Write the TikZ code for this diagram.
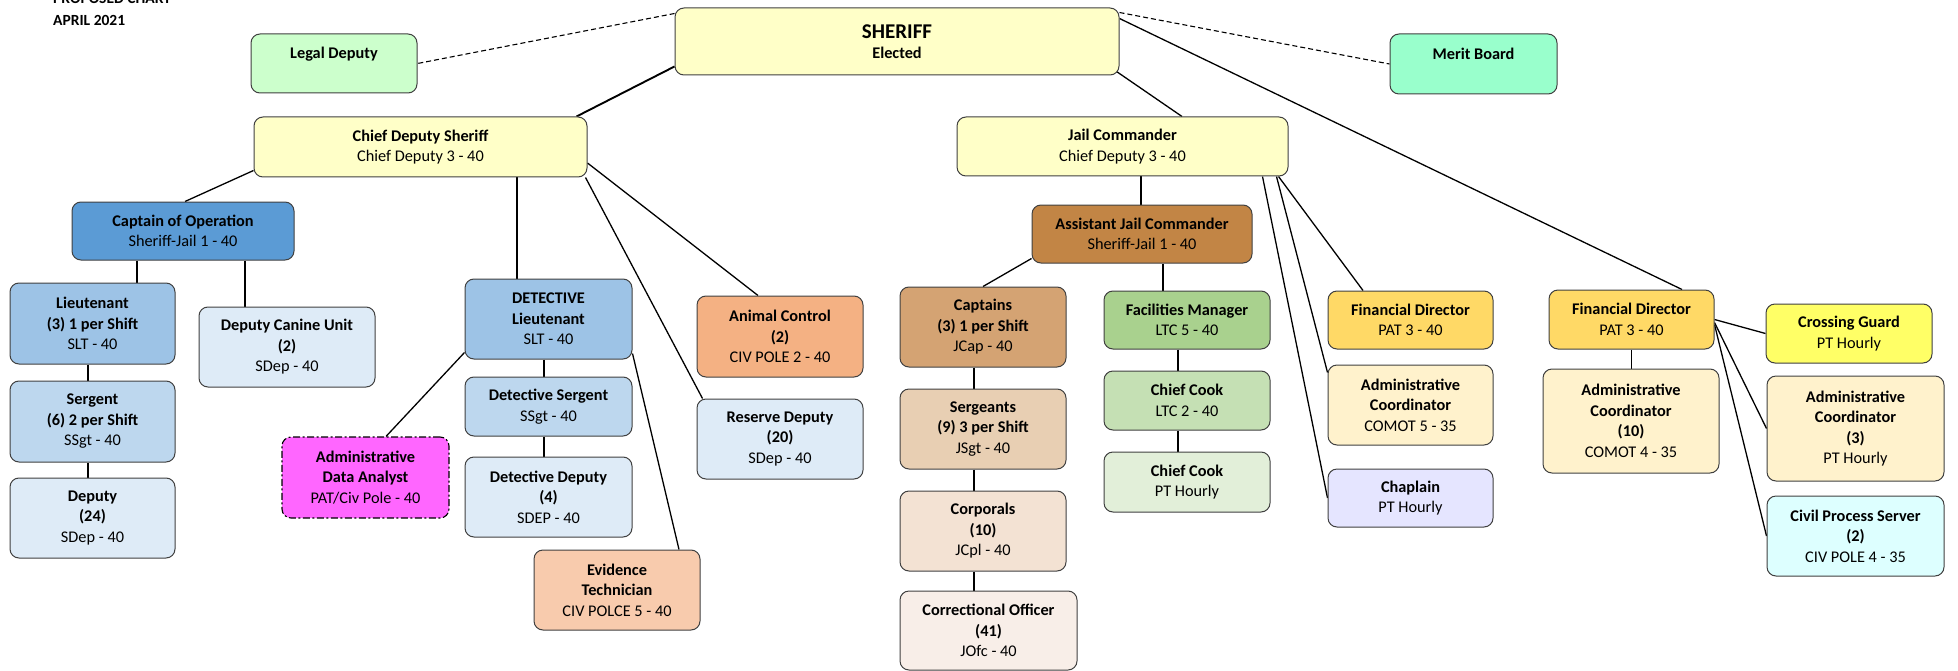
\documentclass[tikz,border=0pt]{standalone}
\usepackage{fontspec}
\setmainfont{Carlito}
\usetikzlibrary{backgrounds}
\definecolor{edge}{HTML}{404040}
\definecolor{cYel}{HTML}{FFFFC8}
\definecolor{cLegal}{HTML}{CCFFCC}
\definecolor{cMerit}{HTML}{99FFCC}
\definecolor{cBlueA}{HTML}{5B9BD5}
\definecolor{cBlueB}{HTML}{9DC3E6}
\definecolor{cBlueC}{HTML}{BDD7EE}
\definecolor{cBlueD}{HTML}{DEEBF7}
\definecolor{cMag}{HTML}{FF66FF}
\definecolor{cAnimal}{HTML}{F4B183}
\definecolor{cEvid}{HTML}{F8CBAD}
\definecolor{cBrA}{HTML}{C28545}
\definecolor{cBrB}{HTML}{D4A373}
\definecolor{cBrC}{HTML}{E8CFB3}
\definecolor{cBrD}{HTML}{F3E2D3}
\definecolor{cBrE}{HTML}{F8EEE8}
\definecolor{cGrA}{HTML}{A9D18E}
\definecolor{cGrB}{HTML}{C5E0B4}
\definecolor{cGrC}{HTML}{E2EFD9}
\definecolor{cGold}{HTML}{FFD966}
\definecolor{cCream}{HTML}{FFF2CC}
\definecolor{cLav}{HTML}{E5E5FF}
\definecolor{cCross}{HTML}{FFFF66}
\definecolor{cCyan}{HTML}{DDFFFF}
\tikzset{
  box/.style={draw=edge, line width=1pt, rounded corners=9pt, align=center,
    inner sep=0pt, text=black, font=\fontsize{16.3}{20.5}\selectfont},
  dashdotbox/.style={dash pattern=on 7pt off 2.5pt on 2pt off 2.5pt, draw=black, line width=1.1pt},
  link/.style={line width=1.3pt, draw=black},
  stem/.style={line width=1.9pt, draw=black},
  dashlink/.style={line width=1.1pt, draw=black, dash pattern=on 5pt off 3pt},
  titletext/.style={anchor=base west, inner sep=0pt, font=\bfseries\fontsize{15.5}{19}\selectfont}
}
% name, x1, y1, x2, y2, fill, extra style, text
\newcommand{\bx}[8]{\node[box, fill=#6, #7, minimum width={(#4-#2)*1pt}, minimum height={(#5-#3)*1pt}] (#1) at ({(#2+#4)/2},{(#3+#5)/2}) {#8};}
\begin{document}
\begin{tikzpicture}[x=1pt,y=-1pt]
\useasboundingbox (0,0) rectangle (1958,671);
\node[titletext] (t1) at (53,4) {PROPOSED CHART};
\node[titletext] (t2) at (53,26) {APRIL 2021};

\bx{legal}{251}{34}{417}{93}{cLegal}{}{\textbf{Legal Deputy}\\\mbox{}}
\bx{sheriff}{675}{8}{1119}{75}{cYel}{}{{\fontsize{21}{20}\selectfont\textbf{SHERIFF}}\\\textbf{Elected}}
\bx{merit}{1390}{34}{1557}{94}{cMerit}{}{\textbf{Merit Board}\\\mbox{}}
\bx{cds}{254}{117}{587}{177}{cYel}{}{\textbf{Chief Deputy Sheriff}\\Chief Deputy 3 - 40}
\bx{jc}{957}{117}{1288}{176}{cYel}{}{\textbf{Jail Commander}\\Chief Deputy 3 - 40}
\bx{coo}{72}{202}{294}{260}{cBlueA}{}{\textbf{Captain of Operation}\\Sheriff-Jail 1 - 40}
\bx{lt}{10}{283}{175}{364}{cBlueB}{}{\textbf{Lieutenant}\\\textbf{(3) 1 per Shift}\\SLT - 40}
\bx{sg}{10}{381}{175}{462}{cBlueC}{}{\textbf{Sergent}\\\textbf{(6) 2 per Shift}\\SSgt - 40}
\bx{dep}{10}{478}{175}{558}{cBlueD}{}{\textbf{Deputy}\\\textbf{(24)}\\SDep - 40}
\bx{canine}{199}{307}{375}{387}{cBlueD}{}{\textbf{Deputy Canine Unit}\\\textbf{(2)}\\SDep - 40}
\bx{dl}{465}{279}{632}{359}{cBlueB}{}{\textbf{DETECTIVE}\\\textbf{Lieutenant}\\SLT - 40}
\bx{ds}{465}{377}{632}{436}{cBlueC}{}{\textbf{Detective Sergent}\\SSgt - 40}
\bx{dd}{465}{457}{632}{537}{cBlueD}{}{\textbf{Detective Deputy}\\\textbf{(4)}\\SDEP - 40}
\bx{et}{534}{550}{700}{630}{cEvid}{}{\textbf{Evidence}\\\textbf{Technician}\\CIV POLCE 5 - 40}
\bx{animal}{697}{296}{863}{377}{cAnimal}{}{\textbf{Animal Control}\\\textbf{(2)}\\CIV POLE 2 - 40}
\bx{reserve}{697}{399}{863}{479}{cBlueD}{}{\textbf{Reserve Deputy}\\\textbf{(20)}\\SDep - 40}
\bx{ada}{282}{437}{449}{518}{cMag}{dashdotbox}{\textbf{Administrative}\\\textbf{Data Analyst}\\PAT/Civ Pole - 40}
\bx{ajc}{1032}{205}{1252}{263}{cBrA}{}{\textbf{Assistant Jail Commander}\\Sheriff-Jail 1 - 40}
\bx{cap}{900}{287}{1066}{367}{cBrB}{}{\textbf{Captains}\\\textbf{(3) 1 per Shift}\\JCap - 40}
\bx{sgts}{900}{389}{1066}{469}{cBrC}{}{\textbf{Sergeants}\\\textbf{(9) 3 per Shift}\\JSgt - 40}
\bx{cpl}{900}{491}{1066}{571}{cBrD}{}{\textbf{Corporals}\\\textbf{(10)}\\JCpl - 40}
\bx{co}{900}{591}{1077}{670}{cBrE}{}{\textbf{Correctional Officer}\\\textbf{(41)}\\JOfc - 40}
\bx{fac}{1104}{291}{1270}{349}{cGrA}{}{\textbf{Facilities Manager}\\LTC 5 - 40}
\bx{cook1}{1104}{371}{1270}{430}{cGrB}{}{\textbf{Chief Cook}\\LTC 2 - 40}
\bx{cook2}{1104}{452}{1270}{512}{cGrC}{}{\textbf{Chief Cook}\\PT Hourly}
\bx{fd1}{1328}{291}{1493}{349}{cGold}{}{\textbf{Financial Director}\\PAT 3 - 40}
\bx{ac1}{1328}{365}{1493}{445}{cCream}{}{\textbf{Administrative}\\\textbf{Coordinator}\\COMOT 5 - 35}
\bx{chap}{1328}{469}{1493}{527}{cLav}{}{\textbf{Chaplain}\\PT Hourly}
\bx{fd2}{1549}{290}{1714}{349}{cGold}{}{\textbf{Financial Director}\\PAT 3 - 40}
\bx{ac10}{1543}{369}{1719}{473}{cCream}{}{\textbf{Administrative}\\\textbf{Coordinator}\\\textbf{(10)}\\COMOT 4 - 35}
\bx{cg}{1766}{304}{1932}{363}{cCross}{}{\textbf{Crossing Guard}\\PT Hourly}
\bx{ac3}{1767}{376}{1944}{481}{cCream}{}{\textbf{Administrative}\\\textbf{Coordinator}\\\textbf{(3)}\\PT Hourly}
\bx{cps}{1767}{496}{1944}{576}{cCyan}{}{\textbf{Civil Process Server}\\\textbf{(2)}\\CIV POLE 4 - 35}

\begin{scope}[on background layer]
% dashed advisory links
\draw[dashlink] ([yshift=-6pt]sheriff.north west) -- (legal.east);
\draw[dashlink] ([yshift=-5pt]sheriff.north east) -- (merit.west);
% sheriff
\draw[stem] ([yshift=9pt]sheriff.south west) -- ([xshift=-11pt]cds.north east);
\draw[link] ([xshift=-3pt,yshift=4pt]sheriff.south east) -- ([xshift=59.5pt]jc.north);
\draw[link] ([yshift=-11pt]sheriff.north east) -- ([xshift=50.5pt]fd2.north);
% chief deputy sheriff
\draw[link] ([yshift=7pt]cds.south west) -- ([xshift=2pt]coo.north);
\draw[stem] ([xshift=96.5pt]cds.south) -- ([xshift=96.5pt]cds.south |- dl.north);
\draw[link] ([yshift=-16pt]cds.east) -- ([xshift=-22pt]animal.north);
\draw[link] ([xshift=-2pt]cds.south east) -- ([xshift=6pt]reserve.north west);
% captain of operation
\draw[stem] ([xshift=-46pt]coo.south) -- ([xshift=-46pt]coo.south |- lt.north);
\draw[stem] ([xshift=62pt]coo.south) -- ([xshift=62pt]coo.south |- canine.north);
\draw[stem] ([xshift=-4.5pt]lt.south) -- ([xshift=-4.5pt]sg.north);
\draw[stem] ([xshift=-4.5pt]sg.south) -- ([xshift=-4.5pt]dep.north);
% detective lieutenant
\draw[link] ([yshift=7pt]dl.south west) -- ([xshift=20.5pt]ada.north);
\draw[stem] ([xshift=-4.5pt]dl.south) -- ([xshift=-4.5pt]ds.north);
\draw[stem] ([xshift=-4.5pt]ds.south) -- ([xshift=-4.5pt]dd.north);
\draw[link] ([yshift=6pt]dl.south east) -- ([xshift=62pt]et.north);
% jail commander
\draw[stem] ([xshift=18.5pt]jc.south) -- ([xshift=18.5pt]jc.south |- ajc.north);
\draw[link] ([xshift=-10pt]jc.south east) -- ([xshift=-47.5pt]fd1.north);
\draw[link] ([xshift=-12pt]jc.south east) -- ([yshift=-8pt]ac1.north west);
\draw[link] ([xshift=-26pt]jc.south east) -- (chap.west);
% assistant jail commander
\draw[link] ([yshift=5pt]ajc.south west) -- (cap.north);
\draw[stem] ([xshift=21pt]ajc.south) -- ([xshift=21pt]ajc.south |- fac.north);
\draw[stem] ([xshift=-9pt]cap.south) -- ([xshift=-9pt]sgts.north);
\draw[stem] ([xshift=-9pt]sgts.south) -- ([xshift=-9pt]cpl.north);
\draw[stem] ([xshift=-9pt]cpl.south) -- ([xshift=-9pt]cpl.south |- co.north);
\draw[stem] ([xshift=-9pt]fac.south) -- ([xshift=-9pt]cook1.north);
\draw[stem] ([xshift=-9pt]cook1.south) -- ([xshift=-9pt]cook2.north);
% financial director
\draw[stem] (fd2.south) -- (fd2.south |- ac10.north);
\draw[link] (fd2.east) -- (cg.west);
\draw[link] ([yshift=-3pt]fd2.east) -- (ac3.west);
\draw[link] ([yshift=-5pt]fd2.east) -- (cps.west);
\end{scope}
\end{tikzpicture}
\end{document}
